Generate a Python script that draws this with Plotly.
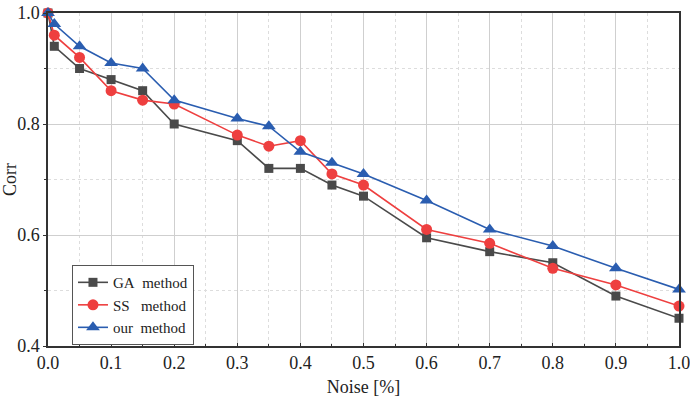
import plotly.graph_objects as go

noise = [0.0, 0.01, 0.05, 0.1, 0.15, 0.2, 0.3, 0.35, 0.4, 0.45, 0.5, 0.6, 0.7, 0.8, 0.9, 1.0]
ga = [1.0, 0.94, 0.90, 0.88, 0.86, 0.80, 0.77, 0.72, 0.72, 0.69, 0.67, 0.595, 0.57, 0.55, 0.49, 0.45]
ss = [1.0, 0.96, 0.92, 0.86, 0.843, 0.836, 0.78, 0.76, 0.77, 0.71, 0.69, 0.61, 0.585, 0.54, 0.51, 0.472]
ours = [1.0, 0.98, 0.94, 0.91, 0.90, 0.843, 0.81, 0.796, 0.75, 0.73, 0.71, 0.662, 0.61, 0.58, 0.54, 0.502]
names = ["GA&nbsp; method", "SS&nbsp;&nbsp; method", "our&nbsp; method"]
x_ticks = [0.0, 0.1, 0.2, 0.3, 0.4, 0.5, 0.6, 0.7, 0.8, 0.9, 1.0]
y_ticks = [0.4, 0.6, 0.8, 1.0]

font = "Liberation Serif"
fig = go.Figure()
styles = [
    (ga, "#4a4a4a", "square", 9),
    (ss, "#ee3f3f", "circle", 11),
    (ours, "#2a5db0", "triangle-up", 12),
]
for (vals, color, sym, size), name in zip(styles, names):
    fig.add_trace(go.Scatter(
        x=noise, y=vals, mode="lines+markers", name=name,
        line=dict(color=color, width=1.6),
        marker=dict(symbol=sym, size=size, color=color),
        cliponaxis=False,
    ))

axis_common = dict(
    showline=True, linecolor="#333333", linewidth=1.5, mirror=True,
    showgrid=True, gridcolor="#cfcfcf", gridwidth=1,
    zeroline=False, ticklen=3, tickcolor="#333333",
    tickfont=dict(family=font, size=18, color="#222222"),
    automargin=False, ticklabeloverflow="allow",
)
fig.update_xaxes(
    range=[0, 1], tickvals=x_ticks, ticktext=[f"{v:.1f}" for v in x_ticks],
    ticks="inside",
    title=dict(text="Noise [%]", font=dict(family=font, size=18, color="#222222"), standoff=8),
    minor=dict(dtick=0.05, showgrid=True, griddash="dot", gridcolor="#dddddd", ticks="inside", ticklen=2, tickcolor="#333333"),
    **axis_common,
)
fig.update_yaxes(
    range=[0.4, 1.0], tickvals=y_ticks, ticktext=[f"{v:.1f}" for v in y_ticks],
    ticks="outside",
    title=dict(text="Corr", font=dict(family=font, size=18, color="#222222"), standoff=4),
    minor=dict(dtick=0.1, showgrid=True, griddash="dot", gridcolor="#dddddd", ticks="outside", ticklen=2, tickcolor="#333333"),
    **axis_common,
)
fig.update_layout(
    width=690, height=402,
    margin=dict(l=48, r=11, t=13, b=56),
    paper_bgcolor="white", plot_bgcolor="white",
    showlegend=True,
    legend=dict(
        x=0.038, y=0.243, xanchor="left", yanchor="top",
        bgcolor="white", bordercolor="#555555", borderwidth=1,
        font=dict(family=font, size=15, color="#222222"),
        tracegroupgap=0, itemwidth=30,
    ),
)
fig.write_html("out.html")
